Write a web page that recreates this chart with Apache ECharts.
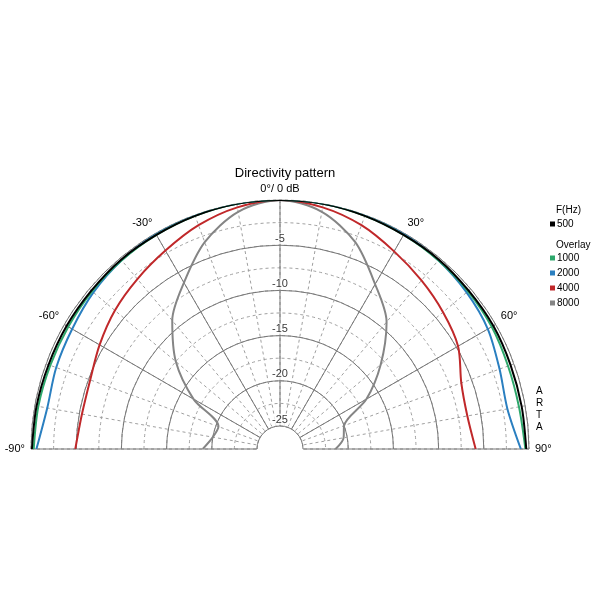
<!DOCTYPE html>
<html>
<head>
<meta charset="utf-8">
<script src="https://cdn.jsdelivr.net/npm/echarts@6/dist/echarts.min.js"></script>
<style>html,body{margin:0;padding:0;background:#fff}#chart{width:600px;height:600px}</style>
</head>
<body>
<div id="chart"></div>
<script>
// angle in degrees, level in dB
var angles = [-90,-80,-70,-60,-50,-40,-30,-20,-10,0,10,20,30,40,50,60,70,80,90];
var s500  = [-0.1,-0.2,-0.3,-0.3,-0.3,-0.2,-0.2,-0.1,0,0,0,-0.1,-0.2,-0.2,-0.3,-0.3,-0.4,-0.4,-0.3];
var s1000 = [-0.3,-0.4,-0.5,-0.5,-0.4,-0.3,-0.2,-0.1,0,0,0,-0.1,-0.2,-0.3,-0.4,-0.5,-0.7,-0.7,-0.4];
var s2000 = [-0.6,-1.4,-1.2,-1.0,-0.6,-0.3,-0.1,0,0,0,0,0,-0.1,-0.3,-0.6,-1.0,-1.7,-2.0,-0.9];
var s4000 = [-4.9,-5.3,-5.2,-4.5,-3.7,-3.0,-2.2,-1.2,-0.4,0,-0.4,-1.2,-2.3,-3.2,-4.0,-4.8,-6.2,-6.5,-5.9];
var s8000 = [-19,-20,-20.3,-16.5,-12.5,-9,-6.3,-3.2,-0.9,0,-0.9,-3.2,-6.5,-9.2,-13,-16.5,-20,-20.4,-21.4];
var ringLabels = [-5,-10,-15,-20,-25];

var names = ['500','1000','2000','4000','8000'];
var colors = ['#000000','#2ea86c','#2a7fc0','#c0282a','#858585'];
var values = [s500, s1000, s2000, s4000, s8000];

var myChart = echarts.init(document.getElementById('chart'));

var series = [];
// draw 500 last so it sits on top like the reference
[4,3,2,1,0].forEach(function(i) {
	series.push({
		name : names[i],
		type : 'line',
		coordinateSystem : 'polar',
		polarIndex : 0,
		symbol : 'none',
		smooth : 0.3,
		lineStyle : { color : colors[i], width : 2 },
		itemStyle : { color : colors[i] },
		data : angles.map(function(a, k) { return [values[i][k], a]; }),
		z : 5
	});
});
// ring labels on the 0° spoke
series.push({
	type : 'scatter',
	coordinateSystem : 'polar',
	polarIndex : 0,
	symbolSize : 0,
	silent : true,
	data : ringLabels.map(function(v) { return [v, 0]; }),
	label : {
		show : true,
		position : 'top',
		distance : 1,
		formatter : function(p) { return p.value[0]; },
		color : '#000',
		fontSize : 11,
		fontFamily : 'Liberation Sans',
		backgroundColor : '#fff',
		padding : [0, 1]
	},
	z : 4
});

var legendText = { fontSize : 10, color : '#000', fontFamily : 'Liberation Sans', padding : [0,0,0,-3] };
var option = {
	animation : false,
	backgroundColor : '#fff',
	title : [
		{ text : 'Directivity pattern', left : 280, top : 162, textAlign : 'center',
		  textStyle : { fontSize : 13, fontWeight : 'normal', color : '#000', fontFamily : 'Liberation Sans' } },
		{ text : 'F(Hz)', left : 551, top : 200,
		  textStyle : { fontSize : 10, fontWeight : 'normal', color : '#000', fontFamily : 'Liberation Sans' } },
		{ text : 'Overlay', left : 551, top : 235,
		  textStyle : { fontSize : 10, fontWeight : 'normal', color : '#000', fontFamily : 'Liberation Sans' } },
		{ text : 'A\nR\nT\nA', left : 531, top : 380,
		  textStyle : { fontSize : 10, fontWeight : 'normal', color : '#000', fontFamily : 'Liberation Sans', lineHeight : 12 } }
	],
	legend : [
		{ data : ['500'], orient : 'vertical', left : 550, top : 219, itemWidth : 5, itemHeight : 5, itemGap : 4,
		  icon : 'rect', padding : 0, textStyle : legendText },
		{ data : ['1000','2000','4000','8000'], orient : 'vertical', left : 550, top : 253, itemWidth : 5, itemHeight : 5, itemGap : 5,
		  icon : 'rect', padding : 0, textStyle : legendText }
	],
	polar : [
		{ center : [280, 449], radius : [23, 249] },
		{ center : [280, 449], radius : [23, 249] }
	],
	angleAxis : [
		{ polarIndex : 0, type : 'value', min : -90, max : 90, interval : 10, startAngle : 180, endAngle : 0, clockwise : true,
		  axisLine : { show : false }, axisTick : { show : false }, axisLabel : { show : false },
		  splitLine : { lineStyle : { color : '#a0a0a0', type : [3, 3], width : 1 } } },
		{ polarIndex : 1, type : 'value', min : -90, max : 90, interval : 30, startAngle : 180, endAngle : 0, clockwise : true,
		  axisLine : { show : false }, axisTick : { show : false },
		  axisLabel : { show : true, margin : 6, color : '#000', fontSize : 11, fontFamily : 'Liberation Sans',
		    formatter : function(v) { return v === 0 ? '0°/ 0 dB' : v + '°'; } },
		  splitLine : { lineStyle : { color : '#777', width : 1 } } }
	],
	radiusAxis : [
		{ polarIndex : 0, type : 'value', min : -25, max : 0, interval : 2.5,
		  axisLine : { show : false }, axisTick : { show : false }, axisLabel : { show : false },
		  splitLine : { lineStyle : { color : '#a0a0a0', type : [3, 3], width : 1 } } },
		{ polarIndex : 1, type : 'value', min : -25, max : 0, interval : 5,
		  axisLine : { show : false }, axisTick : { show : false }, axisLabel : { show : false },
		  splitLine : { lineStyle : { color : '#777', width : 1 } } }
	],
	series : series
};
myChart.setOption(option);
</script>
</body>
</html>
